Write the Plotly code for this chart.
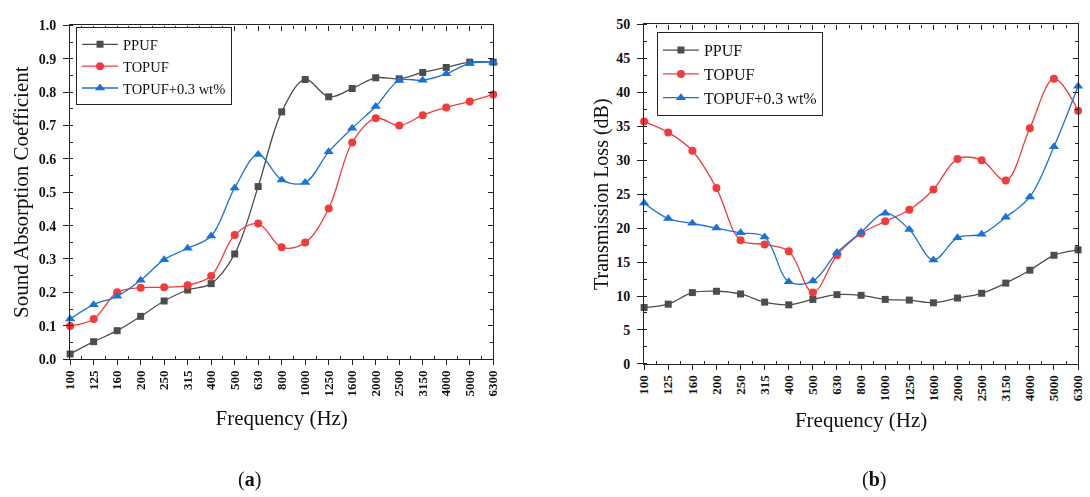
import plotly.graph_objects as go

freqs = ["100", "125", "160", "200", "250", "315", "400", "500", "630", "800",
         "1000", "1250", "1600", "2000", "2500", "3150", "4000", "5000", "6300"]

# (a) Sound absorption coefficient
sac_ppuf = [0.015, 0.052, 0.085, 0.128, 0.174, 0.207, 0.226, 0.315, 0.517, 0.741,
            0.838, 0.786, 0.811, 0.843, 0.840, 0.859, 0.874, 0.890, 0.890]
sac_topuf = [0.099, 0.120, 0.200, 0.214, 0.215, 0.221, 0.249, 0.372, 0.406, 0.335,
             0.349, 0.451, 0.649, 0.722, 0.700, 0.731, 0.754, 0.772, 0.793]
sac_topuf03 = [0.120, 0.163, 0.188, 0.236, 0.298, 0.332, 0.369, 0.513, 0.613, 0.537,
               0.529, 0.621, 0.692, 0.757, 0.835, 0.836, 0.855, 0.886, 0.890]

# (b) Transmission loss (dB)
tl_ppuf = [8.3, 8.8, 10.5, 10.7, 10.3, 9.1, 8.7, 9.5, 10.2, 10.1,
           9.5, 9.4, 9.0, 9.7, 10.4, 11.9, 13.8, 16.0, 16.8]
tl_topuf = [35.7, 34.1, 31.4, 25.9, 18.2, 17.6, 16.6, 10.5, 16.0, 19.2,
            21.0, 22.7, 25.7, 30.2, 30.0, 27.0, 34.7, 42.0, 37.3]
tl_topuf03 = [23.7, 21.4, 20.7, 20.0, 19.3, 18.7, 12.1, 12.2, 16.4, 19.4,
              22.2, 19.8, 15.3, 18.6, 19.1, 21.6, 24.6, 32.0, 40.9]

names = ["PPUF", "TOPUF", "TOPUF+0.3 wt%"]
colors = ["#4d4d4d", "#f23c3c", "#1a72d6"]
symbols = ["square", "circle", "triangle-up"]
msizes = [7, 8, 9]

SERIF = "Liberation Serif"

fig = go.Figure()

left_series = [sac_ppuf, sac_topuf, sac_topuf03]
right_series = [tl_ppuf, tl_topuf, tl_topuf03]

for i in range(3):
    fig.add_trace(go.Scatter(
        x=freqs, y=left_series[i], name=names[i], mode="lines+markers",
        line=dict(color=colors[i], width=1.3, shape="spline", smoothing=1.0),
        marker=dict(symbol=symbols[i], size=msizes[i], color=colors[i]),
        xaxis="x", yaxis="y", legend="legend", cliponaxis=False))
for i in range(3):
    fig.add_trace(go.Scatter(
        x=freqs, y=right_series[i], name=names[i], mode="lines+markers",
        line=dict(color=colors[i], width=1.3, shape="spline", smoothing=1.0),
        marker=dict(symbol=symbols[i], size=msizes[i], color=colors[i]),
        xaxis="x2", yaxis="y2", legend="legend2", cliponaxis=False))

# transparent copies of the data on the frame (tick-only) axes, so they get drawn
idx = list(range(len(freqs)))
carriers = [("x3", "y", idx, sac_ppuf), ("x5", "y", idx, sac_ppuf),
            ("x4", "y2", idx, tl_ppuf), ("x6", "y2", idx, tl_ppuf),
            ("x", "y3", freqs, sac_ppuf), ("x2", "y4", freqs, tl_ppuf)]
for xa, ya, xs, ys in carriers:
    fig.add_trace(go.Scatter(x=xs, y=ys, xaxis=xa, yaxis=ya, showlegend=False,
                             hoverinfo="skip", mode="markers", opacity=0,
                             marker=dict(size=1)))

dom_x1 = [63 / 1090, 492 / 1090]
dom_y1 = [1 - 363 / 497, 1 - 19 / 497]
dom_x2 = [645 / 1090, 1085 / 1090]
dom_y2 = [1 - 368 / 497, 1 - 18 / 497]

xtickfont = dict(family=SERIF, size=13, color="#111", weight="bold")
ytickfont = dict(family=SERIF, size=14, color="#111", weight="bold")
axcol = "#222"

def tfont(size):
    return dict(family=SERIF, size=size, color="#111")

def xcat(domain, anchor, standoff):
    return dict(domain=domain, anchor=anchor, type="category",
                categoryorder="array", categoryarray=freqs, range=[0, 18],
                showgrid=False, zeroline=False, showline=True, linecolor=axcol,
                linewidth=1.3, ticks="outside", ticklen=5, tickcolor=axcol,
                tickangle=-90, tickfont=xtickfont,
                title=dict(text="Frequency (Hz)", font=tfont(21), standoff=standoff))

def ybase(domain, anchor, rng, dtick, fmt, title, standoff, size):
    return dict(domain=domain, anchor=anchor, range=rng, dtick=dtick, tick0=0,
                tickformat=fmt, showgrid=False, zeroline=False, showline=True,
                linecolor=axcol, linewidth=1.3, ticks="outside", ticklen=6,
                tickcolor=axcol, tickfont=ytickfont, ticklabelstandoff=4,
                minor=dict(dtick=dtick / 2, ticks="inside", ticklen=3, tickcolor=axcol),
                title=dict(text=title, font=tfont(size), standoff=standoff))

def xover(overlay, anchor, side, ticks, tick0, ln):
    return dict(overlaying=overlay, anchor=anchor, side=side, type="linear",
                range=[0, 18], tickmode="linear", tick0=tick0, dtick=1,
                ticks=ticks, ticklen=ln, tickcolor=axcol, showticklabels=False,
                showgrid=False, zeroline=False, showline=True, linecolor=axcol,
                linewidth=1.3)

def yover(overlay, anchor, rng, dtick):
    return dict(overlaying=overlay, anchor=anchor, side="right", range=rng,
                tickmode="linear", tick0=0, dtick=dtick, ticks="inside", ticklen=5,
                tickcolor=axcol, showticklabels=False, showgrid=False,
                zeroline=False, showline=True, linecolor=axcol, linewidth=1.3,
                minor=dict(dtick=dtick / 2, ticks="inside", ticklen=3, tickcolor=axcol))

top_minor = dict(dtick=0.5, ticks="inside", ticklen=3, tickcolor=axcol)

fig.update_layout(
    width=1090, height=497, margin=dict(l=0, r=0, t=0, b=0),
    paper_bgcolor="white", plot_bgcolor="white",
    xaxis=xcat(dom_x1, "y", 14),
    yaxis=ybase(dom_y1, "x", [0, 1], 0.1, ".1f", "Sound Absorption Coefficient", 4, 21),
    xaxis2=xcat(dom_x2, "y2", 12),
    yaxis2=ybase(dom_y2, "x2", [0, 50], 5, "d", "Transmission Loss (dB)", 2, 20),
    # top tick axes
    xaxis3={**xover("x", "y", "top", "inside", 0, 5), "minor": top_minor},
    xaxis4={**xover("x2", "y2", "top", "inside", 0, 5), "minor": top_minor},
    # bottom minor tick axes (inside)
    xaxis5=xover("x", "y", "bottom", "inside", 0.5, 3),
    xaxis6=xover("x2", "y2", "bottom", "inside", 0.5, 3),
    # right tick axes
    yaxis3=yover("y", "x", [0, 1], 0.1),
    yaxis4=yover("y2", "x2", [0, 50], 5),
    legend=dict(x=69 / 1090, y=1 - 21 / 497, xanchor="left", yanchor="top",
                bgcolor="white", bordercolor="#222", borderwidth=1,
                font=dict(family=SERIF, size=14.5, color="#111"),
                tracegroupgap=0, itemwidth=36),
    legend2=dict(x=658 / 1090, y=1 - 26 / 497, xanchor="left", yanchor="top",
                 bgcolor="white", bordercolor="#222", borderwidth=1,
                 font=dict(family=SERIF, size=16, color="#111"),
                 tracegroupgap=0, itemwidth=36),
    annotations=[
        dict(text="(<b>a</b>)", x=245 / 1090, y=1 - 487 / 497, xref="paper", yref="paper",
             xanchor="center", yanchor="middle", showarrow=False,
             font=dict(family=SERIF, size=20, color="#111")),
        dict(text="(<b>b</b>)", x=878 / 1090, y=1 - 487 / 497, xref="paper", yref="paper",
             xanchor="center", yanchor="middle", showarrow=False,
             font=dict(family=SERIF, size=20, color="#111")),
    ],
)

fig.write_html("out.html")
